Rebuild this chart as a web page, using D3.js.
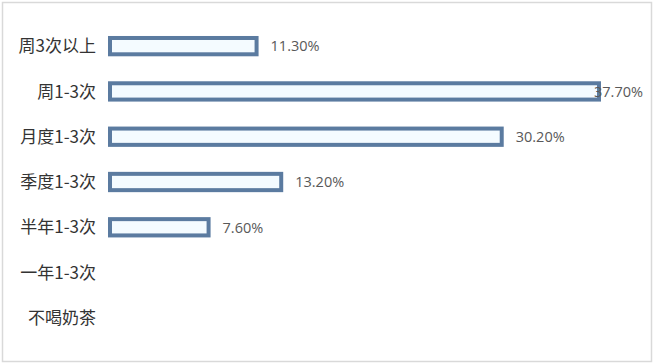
<!DOCTYPE html>
<html>
<head>
<meta charset="utf-8">
<script src="https://cdn.jsdelivr.net/npm/d3@7"></script>
<style>
  body { margin: 0; background: #fff; }
  svg { display: block; }
</style>
</head>
<body>
<div id="chart"></div>
<script>
let categories = ["周3次以上", "周1-3次", "月度1-3次", "季度1-3次", "半年1-3次", "一年1-3次", "不喝奶茶"];
let values = [11.3, 37.7, 30.2, 13.2, 7.6, null, null];
let valueLabels = ["11.30%", "37.70%", "30.20%", "13.20%", "7.60%", "", ""];

let width = 656;
let height = 363;

let svg = d3
  .select("#chart")
  .append("svg")
  .attr("width", width)
  .attr("height", height);

// outer frame
svg
  .append("rect")
  .attr("x", 2.5)
  .attr("y", 2.5)
  .attr("width", 649)
  .attr("height", 359)
  .attr("fill", "#fff")
  .attr("stroke", "#d9d9d9")
  .attr("stroke-width", 1.5);

let x = d3.scaleLinear().domain([0, 37.7]).range([110, 599]);

let y = d3
  .scaleBand()
  .domain(categories)
  .range([23.5, 340.5])
  .paddingInner(0.64)
  .paddingOuter(0.32);

let data = categories.map((c, i) => ({ name: c, value: values[i], label: valueLabels[i] }));

svg
  .selectAll("text.cat")
  .data(data)
  .join("text")
  .attr("class", "cat")
  .attr("x", 96)
  .attr("y", d => y(d.name) + y.bandwidth() / 2)
  .attr("dy", "0.36em")
  .attr("text-anchor", "end")
  .attr("font-family", "'Noto Sans CJK SC', sans-serif")
  .attr("font-size", "17px")
  .attr("fill", "#333")
  .text(d => d.name);

let bars = data.filter(d => d.value != null);

svg
  .selectAll("rect.bar")
  .data(bars)
  .join("rect")
  .attr("class", "bar")
  .attr("x", x(0))
  .attr("y", d => y(d.name))
  .attr("width", d => x(d.value) - x(0))
  .attr("height", y.bandwidth())
  .attr("fill", "#f4fbff")
  .attr("stroke", "#5b7ba0")
  .attr("stroke-width", 4);

let rightLimit = 643;

svg
  .selectAll("text.val")
  .data(bars)
  .join("text")
  .attr("class", "val")
  .attr("x", d => x(d.value) + 14)
  .attr("y", d => y(d.name) + y.bandwidth() / 2)
  .attr("dy", "0.36em")
  .attr("font-family", "'Open Sans', 'Noto Sans', sans-serif")
  .attr("font-size", "14.5px")
  .attr("fill", "#595959")
  .text(d => d.label)
  .each(function(d) {
    // keep label inside the frame, like the spreadsheet does
    let w = this.getComputedTextLength();
    let px = x(d.value) + 14;
    if (px + w > rightLimit) d3.select(this).attr("x", rightLimit - w);
  });
</script>
</body>
</html>
